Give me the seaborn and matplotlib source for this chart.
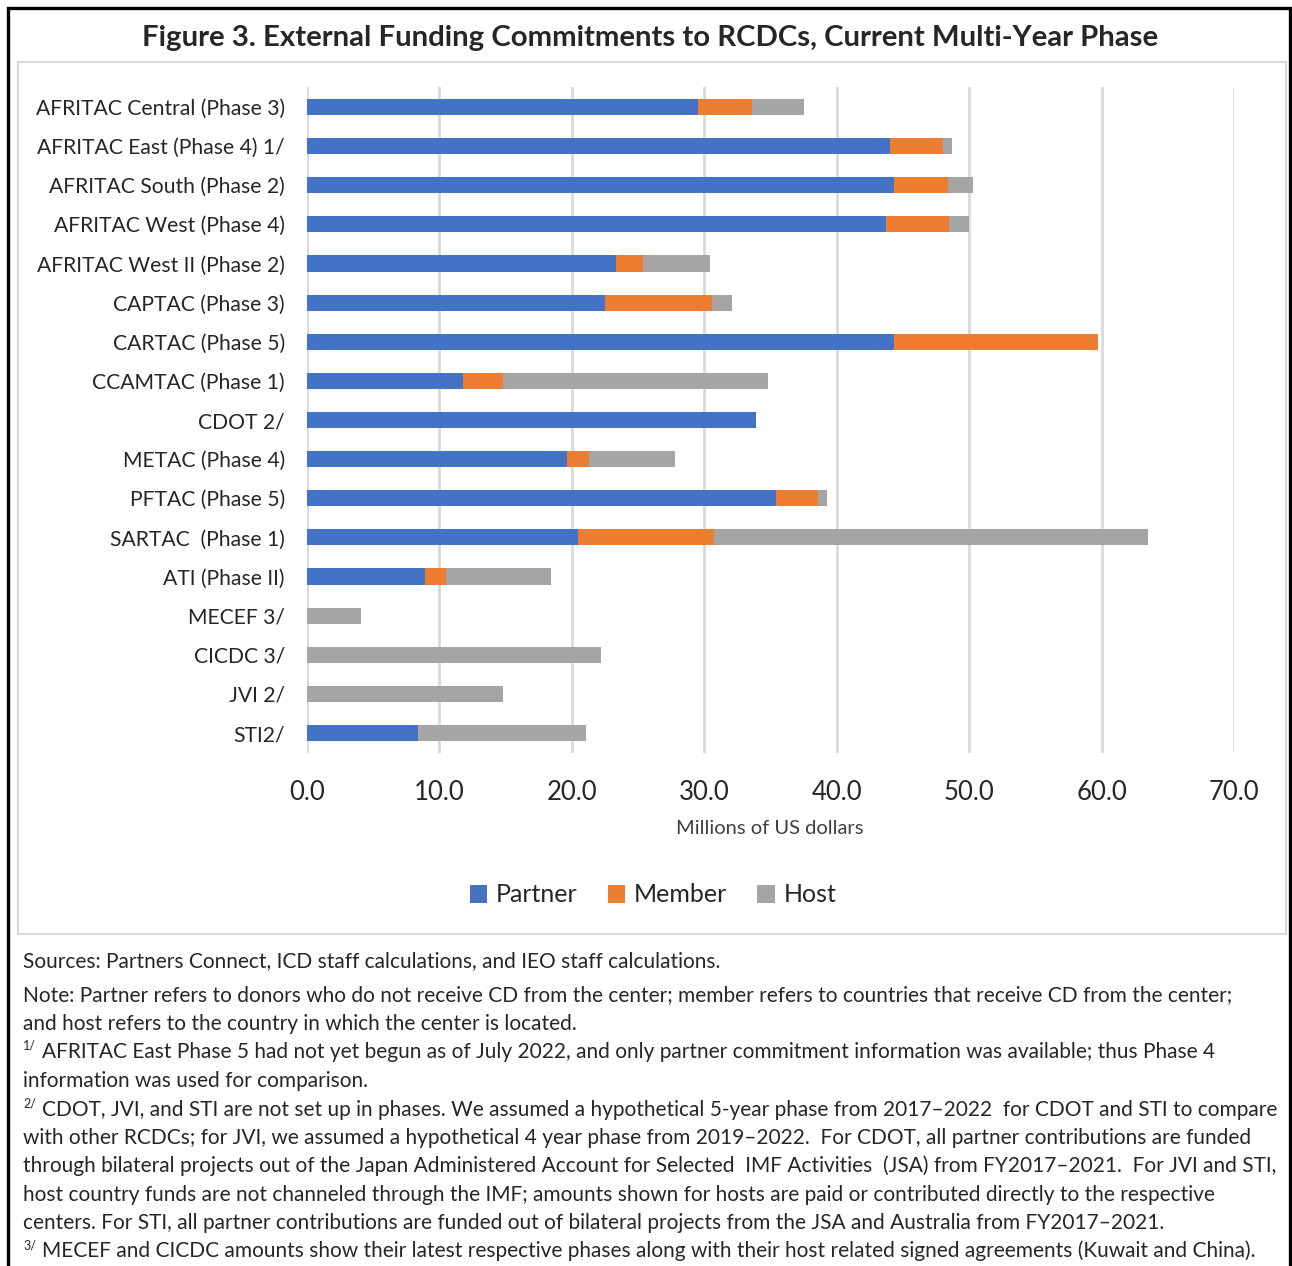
import matplotlib
matplotlib.use("Agg")
import matplotlib.pyplot as plt
from matplotlib.patches import Rectangle, Patch
import numpy as np
import pandas as pd
import seaborn as sns

categories = ["AFRITAC Central (Phase 3)", "AFRITAC East (Phase 4) 1/", "AFRITAC South (Phase 2)",
              "AFRITAC West (Phase 4)", "AFRITAC West II (Phase 2)", "CAPTAC (Phase 3)",
              "CARTAC (Phase 5)", "CCAMTAC (Phase 1)", "CDOT 2/", "METAC (Phase 4)",
              "PFTAC (Phase 5)", "SARTAC  (Phase 1)", "ATI (Phase II)", "MECEF 3/",
              "CICDC 3/", "JVI 2/", "STI2/"]
partner = [29.5, 44.0, 44.3, 43.7, 23.3, 22.5, 44.3, 11.8, 33.9, 19.6, 35.4, 20.5, 8.9, 0, 0, 0, 8.4]
member = [4.1, 4.0, 4.1, 4.8, 2.1, 8.1, 15.4, 3.0, 0, 1.7, 3.2, 10.2, 1.6, 0, 0, 0, 0]
host = [3.9, 0.7, 1.9, 1.5, 5.0, 1.5, 0, 20.0, 0, 6.5, 0.7, 32.8, 7.9, 4.05, 22.2, 14.8, 12.65]
series_names = ["Partner", "Member", "Host"]
colors = ["#4472C4", "#ED7D31", "#A5A5A5"]
xticks = [0, 10, 20, 30, 40, 50, 60, 70]

title = "Figure 3. External Funding Commitments to RCDCs, Current Multi-Year Phase"
xlabel = "Millions of US dollars"
notes = [
    ("", "Sources: Partners Connect, ICD staff calculations, and IEO staff calculations."),
    ("", "Note: Partner refers to donors who do not receive CD from the center; member refers to countries that receive CD from the center;"),
    ("", "and host refers to the country in which the center is located."),
    ("1/", "AFRITAC East Phase 5 had not yet begun as of July 2022, and only partner commitment information was available; thus Phase 4"),
    ("", "information was used for comparison."),
    ("2/", "CDOT, JVI, and STI are not set up in phases. We assumed a hypothetical 5-year phase from 2017\u20132022  for CDOT and STI to compare"),
    ("", "with other RCDCs; for JVI, we assumed a hypothetical 4 year phase from 2019\u20132022.  For CDOT, all partner contributions are funded"),
    ("", "through bilateral projects out of the Japan Administered Account for Selected  IMF Activities  (JSA) from FY2017\u20132021.  For JVI and STI,"),
    ("", "host country funds are not channeled through the IMF; amounts shown for hosts are paid or contributed directly to the respective"),
    ("", "centers. For STI, all partner contributions are funded out of bilateral projects from the JSA and Australia from FY2017\u20132021."),
    ("3/", "MECEF and CICDC amounts show their latest respective phases along with their host related signed agreements (Kuwait and China)."),
]
note_y = [961, 995, 1024, 1052, 1081, 1110, 1138, 1166, 1195, 1223, 1251]

sns.set_theme(style="white")
plt.rcParams['font.family'] = ['Lato', 'DejaVu Sans']

W, H = 1292, 1266
fig = plt.figure(figsize=(W / 100, H / 100), dpi=100)

def fx(x):
    return x / W

def fy(y):
    return 1 - y / H

# frames
fig.patches.append(Rectangle((fx(8), fy(1280)), fx(1290 - 8), (1280 - 8) / H,
                             transform=fig.transFigure, fill=False, edgecolor="black", linewidth=2.4))
fig.patches.append(Rectangle((fx(18), fy(934)), fx(1286 - 18), (934 - 62) / H,
                             transform=fig.transFigure, fill=False, edgecolor="#d9d9d9", linewidth=1.5))

fig.text(fx(650), fy(38), title, ha="center", va="center", fontsize=21.2, fontweight="bold")

ax = fig.add_axes([fx(307), fy(752.6), fx(1234 - 307), (752.6 - 87.4) / H])

df = pd.DataFrame({"cat": categories, "Partner": partner, "Member": member, "Host": host})
df["c1"] = df["Partner"]
df["c2"] = df["Partner"] + df["Member"]
df["c3"] = df["c2"] + df["Host"]

for col, c in zip(["c3", "c2", "c1"], colors[::-1]):
    sns.barplot(data=df, x=col, y="cat", ax=ax, color=c, width=0.41, orient="h",
                order=categories, linewidth=0, saturation=1)

ax.set_xlim(0, 70)
ax.set_xticks(xticks)
ax.set_xticklabels([f"{v:.1f}" for v in xticks], fontsize=18.5)
ax.set_yticks(range(len(categories)))
ax.set_yticklabels(categories, fontsize=15.2)
ax.set_ylim(len(categories) - 0.5, -0.5)
ax.tick_params(axis="x", length=0, pad=20, colors="#262626")
ax.tick_params(axis="y", length=0, pad=16, colors="#262626")
ax.set_xlabel("")
ax.set_ylabel("")
ax.grid(axis="x", color="#d9d9d9", linewidth=2)
ax.set_axisbelow(True)
for s in ax.spines.values():
    s.set_visible(False)

fig.text(fx(770), fy(828), xlabel, ha="center", va="center", fontsize=14.5, color="#404040")

handles = [Patch(facecolor=c, edgecolor="none") for c in colors]
fig.legend(handles, series_names, loc="center", bbox_to_anchor=(fx(653), fy(895)), ncol=3,
           frameon=False, fontsize=18, handlelength=0.7, handleheight=0.7, handletextpad=0.35,
           columnspacing=1.2)

for (sup, txt), y in zip(notes, note_y):
    if sup:
        fig.text(fx(23), fy(y - 6), sup, ha="left", va="center", fontsize=9)
        fig.text(fx(42), fy(y), txt, ha="left", va="center", fontsize=15)
    else:
        fig.text(fx(23), fy(y), txt, ha="left", va="center", fontsize=15)

fig.savefig("out.png", dpi=100, facecolor="white")
